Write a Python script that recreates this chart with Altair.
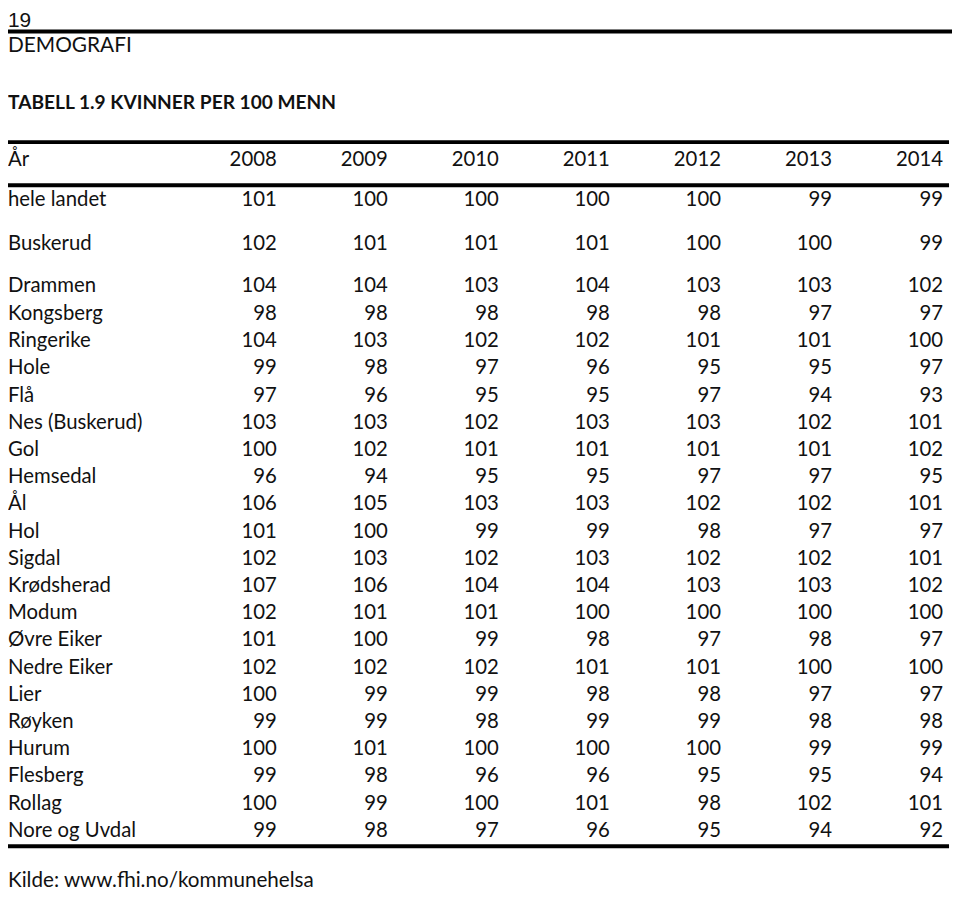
import altair as alt
import pandas as pd

# ---- data ----
years = ["2008", "2009", "2010", "2011", "2012", "2013", "2014"]
places = ["hele landet", "Buskerud", "Drammen", "Kongsberg", "Ringerike", "Hole", "Flå",
          "Nes (Buskerud)", "Gol", "Hemsedal", "Ål", "Hol", "Sigdal", "Krødsherad", "Modum",
          "Øvre Eiker", "Nedre Eiker", "Lier", "Røyken", "Hurum", "Flesberg", "Rollag",
          "Nore og Uvdal"]
v2008 = [101, 102, 104, 98, 104, 99, 97, 103, 100, 96, 106, 101, 102, 107, 102, 101, 102, 100, 99, 100, 99, 100, 99]
v2009 = [100, 101, 104, 98, 103, 98, 96, 103, 102, 94, 105, 100, 103, 106, 101, 100, 102, 99, 99, 101, 98, 99, 98]
v2010 = [100, 101, 103, 98, 102, 97, 95, 102, 101, 95, 103, 99, 102, 104, 101, 99, 102, 99, 98, 100, 96, 100, 97]
v2011 = [100, 101, 104, 98, 102, 96, 95, 103, 101, 95, 103, 99, 103, 104, 100, 98, 101, 98, 99, 100, 96, 101, 96]
v2012 = [100, 100, 103, 98, 101, 95, 97, 103, 101, 97, 102, 98, 102, 103, 100, 97, 101, 98, 99, 100, 95, 98, 95]
v2013 = [99, 100, 103, 97, 101, 95, 94, 102, 101, 97, 102, 97, 102, 103, 100, 98, 100, 97, 98, 99, 95, 102, 94]
v2014 = [99, 99, 102, 97, 100, 97, 93, 101, 102, 95, 101, 97, 101, 102, 100, 97, 100, 97, 98, 99, 94, 101, 92]
page_no = "19"
section = "DEMOGRAFI"
title = "TABELL 1.9 KVINNER PER 100 MENN"
header_label = "År"
source = "Kilde: www.fhi.no/kommunehelsa"

# ---- layout (chart pixel coordinates) ----
W, H = 944, 884
FONT = "Lato"
FS = 20.5
label_x = 0
col_right = [271 + 112 * i for i in range(len(years))]
header_base = 156
first_rows_base = [196, 240, 283]
row_step = 27.42
row_base = first_rows_base + [first_rows_base[-1] + 28 + row_step * (i - 3) for i in range(3, len(places))]

all_values = [v2008, v2009, v2010, v2011, v2012, v2013, v2014]
cells = []
for ci, vals in enumerate(all_values):
    for ri, v in enumerate(vals):
        cells.append({"x": col_right[ci], "y": row_base[ri], "t": str(v)})
for ci, yr in enumerate(years):
    cells.append({"x": col_right[ci], "y": header_base, "t": yr})
cells_df = pd.DataFrame(cells)

labels_df = pd.DataFrame(
    [{"x": label_x, "y": row_base[i], "t": p} for i, p in enumerate(places)]
    + [{"x": label_x, "y": header_base, "t": header_label}]
)

xs = alt.Scale(domain=[0, W], range=[0, W])
ys = alt.Scale(domain=[0, H], range=[0, H])

def txt(df, align, size=FS, weight="normal", font=FONT):
    return alt.Chart(df).mark_text(
        align=align, baseline="alphabetic", font=font, fontSize=size,
        fontWeight=weight, color="#111111"
    ).encode(
        x=alt.X("x:Q", scale=xs, axis=None),
        y=alt.Y("y:Q", scale=ys, axis=None),
        text="t:N",
    )

labels = txt(labels_df, "left")
numbers = txt(cells_df, "right")

pno = txt(pd.DataFrame([{"x": 0, "y": 15, "t": page_no}]), "left", size=21, font="Liberation Sans")
sec = txt(pd.DataFrame([{"x": 0, "y": 41, "t": section}]), "left", size=21)
ttl = txt(pd.DataFrame([{"x": 0, "y": 98, "t": title}]), "left", size=19.3, weight="bold")
src = txt(pd.DataFrame([{"x": 0, "y": 883, "t": source}]), "left", size=20.8)

def hline(y, x1, x2, w):
    return alt.Chart(pd.DataFrame({"a": [0]})).mark_rule(color="#000000", strokeWidth=w).encode(
        x=alt.value(x1), x2=alt.value(x2), y=alt.value(y)
    )

rules = [
    hline(20, -8, 952, 4),
    hline(131.5, -5, 949, 4),
    hline(175, -5, 949, 4),
    hline(841.5, -5, 949, 4),
]

chart = alt.layer(*rules, labels, numbers, pno, sec, ttl, src).properties(
    width=W, height=H,
    background="white",
    autosize=alt.AutoSizeParams(type="none"),
    padding={"left": 0, "top": 0, "right": 8, "bottom": 0},
).configure_view(strokeWidth=0, stroke="transparent")

chart.save("out.html", embed_options={"renderer": "svg", "actions": False})
